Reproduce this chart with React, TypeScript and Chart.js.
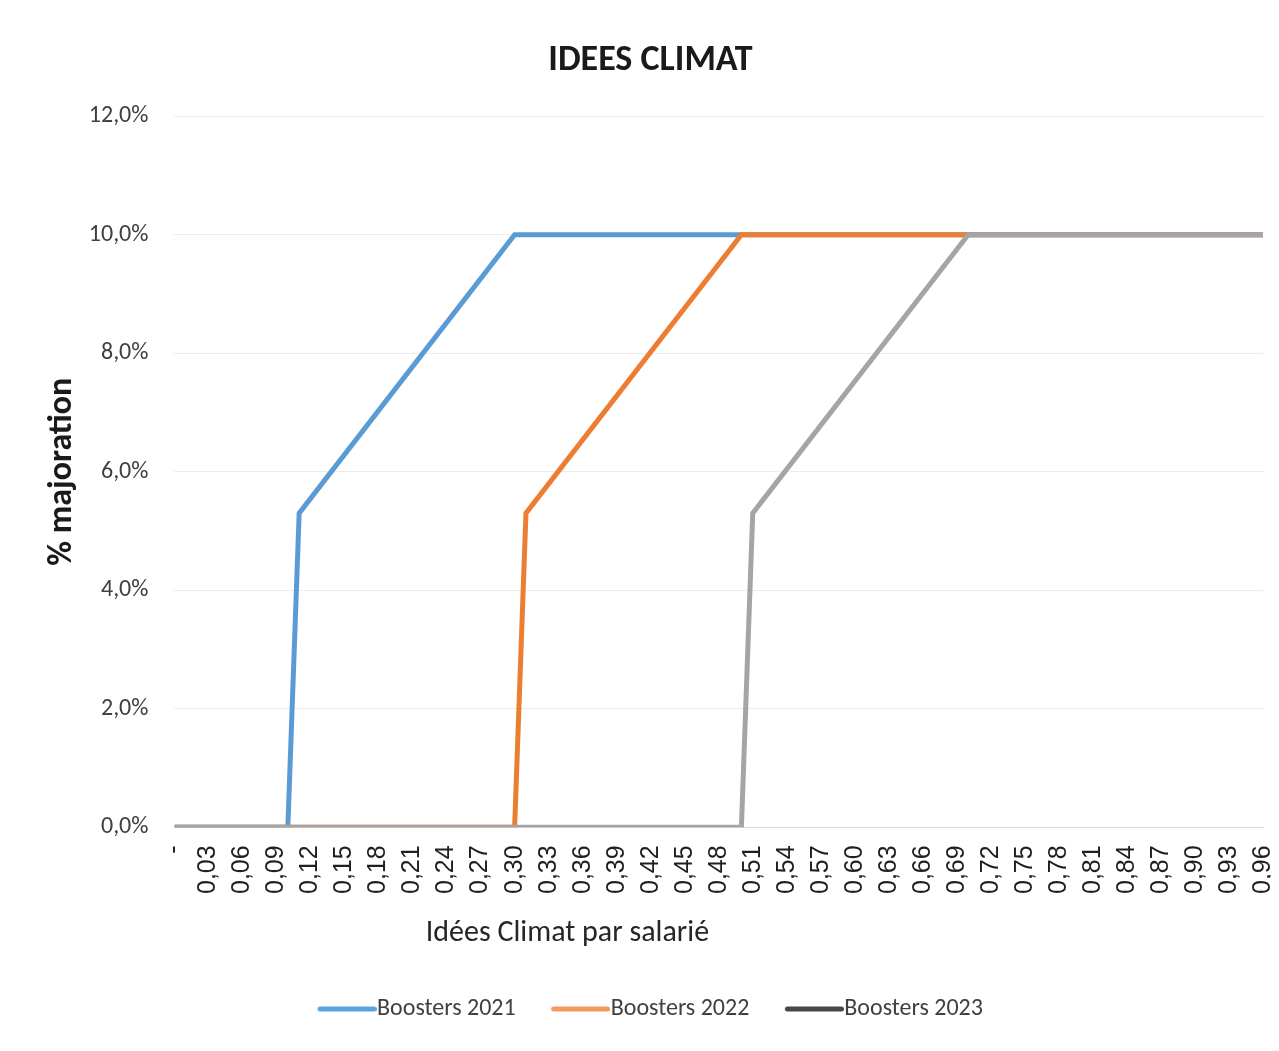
import React, { useEffect, useRef } from "react";
import { Chart, registerables } from "chart.js";

Chart.register(...registerables);

const CHART_TITLE = "IDEES CLIMAT";
const X_TITLE = "Idées Climat par salarié";
const Y_TITLE = "% majoration";

const SERIES_NAMES = ["Boosters 2021", "Boosters 2022", "Boosters 2023"];
const SERIES_COLORS = ["#5b9bd5", "#ed7d31", "#a5a5a5"];
const LEGEND_COLORS = ["#5ba3dc", "#f59a5c", "#474747"];

const X_2021 = [0, 0.1, 0.11, 0.3, 0.96];
const Y_2021 = [0, 0, 5.3, 10.0, 10.0];
const X_2022 = [0, 0.3, 0.31, 0.5, 0.96];
const Y_2022 = [0, 0, 5.3, 10.0, 10.0];
const X_2023 = [0, 0.5, 0.51, 0.7, 0.96];
const Y_2023 = [0, 0, 5.3, 10.0, 10.0];

const X_TICKS = [
  0, 0.03, 0.06, 0.09, 0.12, 0.15, 0.18, 0.21, 0.24, 0.27, 0.3, 0.33, 0.36,
  0.39, 0.42, 0.45, 0.48, 0.51, 0.54, 0.57, 0.6, 0.63, 0.66, 0.69, 0.72, 0.75,
  0.78, 0.81, 0.84, 0.87, 0.9, 0.93, 0.96,
];
const X_TICK_LABELS = [
  "-", "0,03", "0,06", "0,09", "0,12", "0,15", "0,18", "0,21", "0,24", "0,27",
  "0,30", "0,33", "0,36", "0,39", "0,42", "0,45", "0,48", "0,51", "0,54",
  "0,57", "0,60", "0,63", "0,66", "0,69", "0,72", "0,75", "0,78", "0,81",
  "0,84", "0,87", "0,90", "0,93", "0,96",
];
const Y_TICKS = [0, 2, 4, 6, 8, 10, 12];
const Y_TICK_LABELS = ["0,0%", "2,0%", "4,0%", "6,0%", "8,0%", "10,0%", "12,0%"];

const FONT = "Carlito, Lato, 'Open Sans', sans-serif";
const TICK_FONT = "'Liberation Sans', Arial, sans-serif";

const toPoints = (xs: number[], ys: number[]) => xs.map((x, i) => ({ x, y: ys[i] }));

const makeLegendLine = (color: string) => {
  const c = document.createElement("canvas");
  c.width = 70;
  c.height = 6;
  const g = c.getContext("2d");
  if (g) {
    g.fillStyle = color;
    g.beginPath();
    (g as any).roundRect ? (g as any).roundRect(11, 0.5, 59, 5, 2.5) : g.rect(11, 0.5, 59, 5);
    g.fill();
  }
  return c;
};

const xTitlePlugin = {
  id: "xTitlePlugin",
  afterDraw(chart: any) {
    const { ctx, chartArea } = chart;
    ctx.save();
    ctx.font = `30px ${FONT}`;
    ctx.fillStyle = "#262626";
    ctx.textAlign = "center";
    ctx.textBaseline = "middle";
    const cx = chartArea.left + (chartArea.right - chartArea.left) * 0.361;
    ctx.fillText(X_TITLE, cx, chartArea.bottom + 106);
    ctx.restore();
  },
};

export default function App() {
  const ref = useRef<HTMLCanvasElement | null>(null);

  useEffect(() => {
    if (!ref.current) return;
    const xsList = [X_2021, X_2022, X_2023];
    const ysList = [Y_2021, Y_2022, Y_2023];
    const legendImgs = LEGEND_COLORS.map(makeLegendLine);
    const chart = new Chart(ref.current, {
      type: "line",
      data: {
        datasets: SERIES_NAMES.map((name, i) => ({
          label: name,
          data: toPoints(xsList[i], ysList[i]),
          borderColor: SERIES_COLORS[i],
          backgroundColor: SERIES_COLORS[i],
          borderWidth: 5,
          pointRadius: 0,
          pointHoverRadius: 0,
          tension: 0,
          fill: false,
          order: 2 - i,
        })),
      },
      plugins: [xTitlePlugin],
      options: {
        animation: false,
        responsive: false,
        maintainAspectRatio: false,
        layout: { padding: { left: 30, right: 8, top: 0, bottom: 12 } },
        plugins: {
          tooltip: { enabled: false },
          title: {
            display: true,
            text: CHART_TITLE,
            color: "#1a1a1a",
            font: { family: FONT, size: 36, weight: "bold" },
            padding: { top: 31, bottom: 34 },
          },
          legend: {
            display: true,
            position: "bottom",
            labels: {
              color: "#404040",
              font: { family: FONT, size: 24 },
              usePointStyle: true,
              pointStyleWidth: 47,
              boxHeight: 6,
              padding: 36,
              sort: (a: any, b: any) => a.datasetIndex - b.datasetIndex,
              generateLabels: () =>
                SERIES_NAMES.map((name, i) => ({
                  text: name,
                  fillStyle: LEGEND_COLORS[i],
                  strokeStyle: LEGEND_COLORS[i],
                  lineWidth: 0,
                  pointStyle: legendImgs[i],
                  fontColor: "#404040",
                  datasetIndex: i,
                  hidden: false,
                })),
            },
          },
        },
        scales: {
          x: {
            type: "linear",
            min: 0,
            max: 0.96,
            afterBuildTicks: (scale: any) => {
              scale.ticks = X_TICKS.map((v) => ({ value: v }));
            },
            afterFit: (scale: any) => {
              scale.height += 49;
              scale.paddingRight = 0;
            },
            ticks: {
              autoSkip: false,
              minRotation: 90,
              maxRotation: 90,
              padding: 18,
              color: "#1f1f1f",
              font: { family: TICK_FONT, size: 25 },
              callback: (_v: any, idx: number) => X_TICK_LABELS[idx],
            },
            grid: { display: false, drawTicks: false },
            border: { display: true, color: "#d9d9d9", width: 1 },
          },
          y: {
            type: "linear",
            min: 0,
            max: 12,
            afterBuildTicks: (scale: any) => {
              scale.ticks = Y_TICKS.map((v) => ({ value: v }));
            },
            ticks: {
              padding: 26,
              color: "#404040",
              font: { family: FONT, size: 24 },
              callback: (_v: any, idx: number) => Y_TICK_LABELS[idx],
            },
            grid: { color: "#ececec", lineWidth: 1, drawTicks: false },
            border: { display: false },
            title: {
              display: true,
              text: Y_TITLE,
              color: "#1a1a1a",
              font: { family: FONT, size: 34, weight: "bold" },
              padding: { top: 4, bottom: -20 },
            },
          },
        },
      },
    });
    return () => chart.destroy();
  }, []);

  return (
    <div style={{ width: 1263, height: 1035, background: "#fff" }}>
      <canvas ref={ref} width={1263} height={1035} style={{ width: 1263, height: 1035 }} />
    </div>
  );
}
